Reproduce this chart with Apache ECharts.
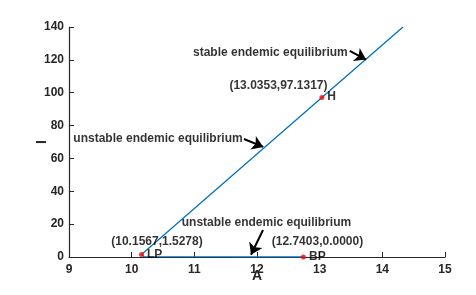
<!DOCTYPE html>
<html><head><meta charset="utf-8">
<script src="https://cdn.jsdelivr.net/npm/echarts@6/dist/echarts.min.js"></script>
<style>html,body{margin:0;padding:0;background:#fff}#c{width:476px;height:295px}</style>
</head><body><div id="c"></div>
<script>
// Data
const upperBranch = [[10.1567, 1.5278], [13.0353, 97.1317], [14.33, 140]];
const lowerBranch = [[10.1567, 1.5278], [10.2, 0.2], [12.7403, 0.0]];
const specialPoints = [[10.1567, 1.5278], [12.7403, 0.0], [13.0353, 97.1317]];
const xTicks = [9, 10, 11, 12, 13, 14, 15];
const yTicks = [0, 20, 40, 60, 80, 100, 120, 140];
// Annotations (data coordinates): [x, y, text, align]
const texts = [
  [10.979, 124.4, 'stable endemic equilibrium', 'left'],
  [12.343, 104.0, '(13.0353,97.1317)', 'center'],
  [13.12, 97.4, 'H', 'left'],
  [10.42, 71.8, 'unstable endemic equilibrium', 'center'],
  [12.151, 20.7, 'unstable endemic equilibrium', 'center'],
  [10.404, 9.1, '(10.1567,1.5278)', 'center'],
  [10.245, 1.6, 'LP', 'left'],
  [12.965, 9.1, '(12.7403,0.0000)', 'center'],
  [12.83, 0.4, 'BP', 'left']
];
const arrows = [
  [[13.48, 125.4], [13.74, 120.2]],
  [[11.792, 71.8], [12.10, 67.0]],
  [[12.096, 16.4], [11.904, 1.4]]
];

const font = 'Liberation Sans, Arial, sans-serif';
const chart = echarts.init(document.getElementById('c'));
chart.setOption({
  animation: false,
  grid: {left: 69, right: 31, top: 27, bottom: 38, containLabel: false, outerBoundsMode: 'none'},
  xAxis: {
    type: 'value', min: 9, max: 15, interval: 1, name: 'A',
    nameLocation: 'middle', nameGap: 12, nameMoveOverlap: false,
    nameTextStyle: {fontFamily: font, fontWeight: 'bold', fontSize: 14, color: '#262626'},
    axisLine: {lineStyle: {color: '#262626', width: 1.2}},
    axisTick: {inside: true, length: 5, lineStyle: {color: '#262626'}},
    axisLabel: {fontFamily: font, fontWeight: 'bold', fontSize: 12, color: '#262626', margin: 7},
    splitLine: {show: false}
  },
  yAxis: {
    type: 'value', min: 0, max: 140, interval: 20, name: 'I',
    nameLocation: 'middle', nameGap: 20, nameRotate: 90, nameMoveOverlap: false,
    nameTextStyle: {fontFamily: font, fontWeight: 'bold', fontSize: 14, color: '#262626'},
    axisLine: {show: true, lineStyle: {color: '#262626', width: 1.2}},
    axisTick: {show: true, inside: true, length: 5, lineStyle: {color: '#262626'}},
    axisLabel: {fontFamily: font, fontWeight: 'bold', fontSize: 12, color: '#262626', margin: 5},
    splitLine: {show: false}
  },
  series: [
    {type: 'line', data: upperBranch, showSymbol: false, lineStyle: {color: '#0072BD', width: 1.3}, z: 3},
    {type: 'line', data: lowerBranch, showSymbol: false, lineStyle: {color: '#0072BD', width: 1.3}, z: 3,
      markLine: {
        silent: true, symbol: ['none', 'arrow'], symbolSize: 11,
        label: {show: false},
        lineStyle: {color: '#000', width: 2, type: 'solid'},
        data: arrows.map(a => [{coord: a[0]}, {coord: a[1]}])
      }
    },
    {type: 'scatter', data: specialPoints, symbolSize: 5, itemStyle: {color: '#ff0000'}, z: 5},
    {type: 'scatter', symbolSize: 0, z: 6,
      data: texts.map(t => ({value: [t[0], t[1]], label: {
        show: true, position: 'inside', formatter: t[2], align: t[3], verticalAlign: 'middle',
        fontFamily: font, fontWeight: 'bold', fontSize: 12, color: '#000'}})),
    }
  ]
});
</script></body></html>
